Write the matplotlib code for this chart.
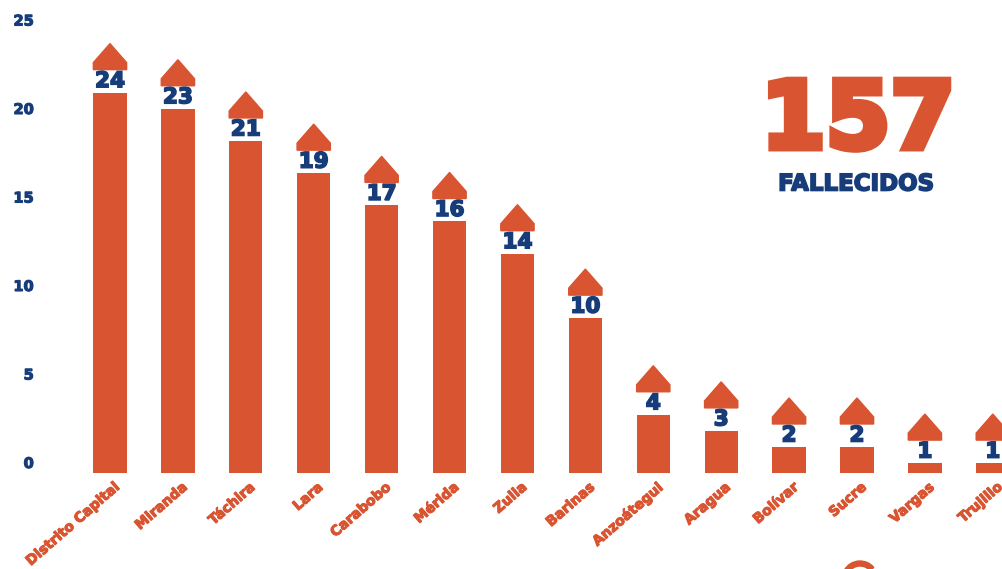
import numpy as np
from matplotlib import pyplot as plt
from matplotlib import patheffects as pe
from matplotlib.patches import Polygon, Wedge
from matplotlib.transforms import ScaledTranslation

ORANGE = '#d95430'
NAVY = '#163c7a'
FONT = 'DejaVu Sans'

states = ['Distrito Capital', 'Miranda', 'Táchira', 'Lara', 'Carabobo', 'Mérida',
          'Zulia', 'Barinas', 'Anzoátegui', 'Aragua', 'Bolívar', 'Sucre',
          'Vargas', 'Trujillo']
deaths = [24, 23, 21, 19, 17, 16, 14, 10, 4, 3, 2, 2, 1, 1]
y_ticks = [0, 5, 10, 15, 20, 25]
total = 157
total_label = 'FALLECIDOS'

# px -> data helpers (figure is 1003x569 at dpi 100)
PX = 1 / 17.7          # one pixel in y data units
BAR_W = 0.49
GAP = 23 * PX          # white gap holding the number
RECT = 7 * PX          # straight part of the arrow head
TRI = 19 * PX          # pointed part of the arrow head


def heavy(color, lw):
    # DejaVu has no black weight, so fatten the glyphs with a stroke
    return [pe.withStroke(linewidth=lw, foreground=color, joinstyle='miter')]


fig = plt.figure(figsize=(10.03, 5.69), dpi=100)
ax = fig.add_axes([45 / 1003, 96 / 569, 958 / 1003, 473 / 569])
ax.set_xlim(-0.957, 13.15)
ax.set_ylim(0, 473 * PX)

x = np.arange(len(states))
vals = np.array(deaths, dtype=float)
# the bar is shortened so that the arrow cap ends near the value
tops = vals * 0.91 - 0.35
ax.bar(x, tops, width=BAR_W, color=ORANGE, zorder=2)

for xi, top, v in zip(x, tops, deaths):
    l, r = xi - BAR_W / 2, xi + BAR_W / 2
    b = top + GAP
    head = Polygon([(l, b), (r, b), (r, b + RECT), (xi, b + RECT + TRI), (l, b + RECT)],
                   closed=True, color=ORANGE, zorder=2)
    ax.add_patch(head)
    ax.text(xi, top + GAP / 2, str(v), ha='center', va='center', color=NAVY,
            fontsize=15.5, fontweight='bold', family=FONT, zorder=3,
            path_effects=heavy(NAVY, 1.2))

for s in ax.spines.values():
    s.set_visible(False)

ax.set_yticks(y_ticks)
ax.set_yticklabels([str(t) for t in y_ticks])
ax.tick_params(axis='y', length=0, pad=8, labelsize=10.5, labelcolor=NAVY)
for lab in ax.get_yticklabels():
    lab.set_fontweight('bold')
    lab.set_family(FONT)
    lab.set_path_effects(heavy(NAVY, 0.8))
    lab.set_transform(lab.get_transform() + ScaledTranslation(0, 0.11, fig.dpi_scale_trans))

ax.set_xticks(x)
ax.set_xticklabels(states, rotation=41, ha='right', rotation_mode='anchor')
ax.tick_params(axis='x', length=0, pad=5, labelsize=10, labelcolor=ORANGE)
for lab in ax.get_xticklabels():
    lab.set_fontweight('bold')
    lab.set_family(FONT)
    lab.set_path_effects(heavy(ORANGE, 0.8))
    lab.set_transform(lab.get_transform() + ScaledTranslation(0.03, 0, fig.dpi_scale_trans))

# big total
fig.text(858 / 1003, 1 - 122 / 569, str(total), ha='center', va='center', color=ORANGE,
         fontsize=67, fontweight='bold', family=FONT, path_effects=heavy(ORANGE, 5))
fig.text(856 / 1003, 1 - 184 / 569, total_label, ha='center', va='center', color=NAVY,
         fontsize=16.5, fontweight='bold', family=FONT, path_effects=heavy(NAVY, 1.2))

# piece of the logo peeking in at the bottom
logo = Wedge((8.60, -0.10), 0.18, 40, 150, width=0.05, color=ORANGE,
             transform=fig.dpi_scale_trans)
fig.patches.append(logo)

fig.savefig('out.png', dpi=100)
